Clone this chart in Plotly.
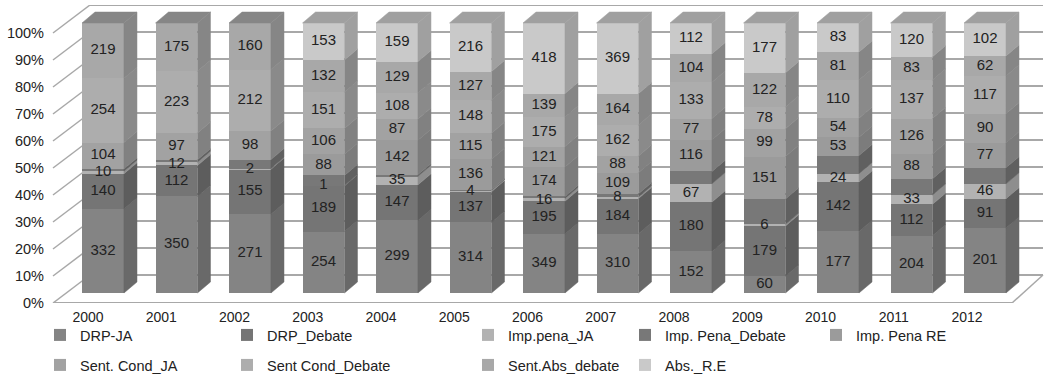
import numpy as np
import plotly.graph_objects as go

# ---- data -------------------------------------------------------------
years = [2000, 2001, 2002, 2003, 2004, 2005, 2006, 2007, 2008, 2009, 2010, 2011, 2012]

drp_ja           = [332, 350, 271, 254, 299, 314, 349, 310, 152,  60, 177, 204, 201]
drp_debate       = [140, 112, 155, 189, 147, 137, 195, 184, 180, 179, 142, 112,  91]
imp_pena_ja      = [ 10,  12,   2,   1,  35,   4,  16,   8,  67,   6,  24,  33,  46]
imp_pena_debate  = [  9,   9,  31,  42,   7,   5,  12,  17,  45,  90,  52,  58,  50]
imp_pena_re      = [  0,   0,   0,  88, 142, 136, 174, 109, 116, 151,  53,  88,  77]
sent_cond_ja     = [104,  97,  98, 106,  87, 115, 121,  88,  77,  99,  54, 126,  90]
sent_cond_debate = [254, 223, 212, 151, 108, 148, 175, 162, 133,  78, 110, 137, 117]
sent_abs_debate  = [219, 175, 160, 132, 129, 127, 139, 164, 104, 122,  81,  83,  62]
abs_re           = [  0,   0,   0, 153, 159, 216, 418, 369, 112, 177,  83, 120, 102]

series_names = ["DRP-JA", "DRP_Debate", "Imp.pena_JA", "Imp. Pena_Debate", "Imp. Pena RE",
                "Sent. Cond_JA", "Sent Cond_Debate", "Sent.Abs_debate", "Abs._R.E"]
series_values = [drp_ja, drp_debate, imp_pena_ja, imp_pena_debate, imp_pena_re,
                 sent_cond_ja, sent_cond_debate, sent_abs_debate, abs_re]
series_colors = ["#848484", "#757575", "#b2b2b2", "#787878", "#9b9b9b",
                 "#a2a2a2", "#adadad", "#a8a8a8", "#c9c9c9"]
# the Imp. Pena_Debate segments carry no value label
show_labels = [True, True, True, False, True, True, True, True, True]

tick_pcts = list(range(0, 101, 10))

# ---- geometry of the pseudo-3D columns --------------------------------
FONT = "Liberation Sans, Arial, sans-serif"
TEXT_COLOR = "#222222"
FRAME_COLOR = "#a8a8a8"
BAR_W = 0.571          # front face width (x units)
DX = 0.177             # depth offset along x (x units)
DY = 4.07              # depth offset along y (percent units)
WALL = 10.37           # distance between the front plane and the back wall (percent units)
WALL_X = 0.0374        # back wall left edge (paper units)
FLOOR_X = 0.9687       # front floor right corner (paper units)


def shade(hex_color, f):
    r, g, b = (int(hex_color[i:i + 2], 16) for i in (1, 3, 5))
    return "#%02x%02x%02x" % (int(r * f), int(g * f), int(b * f))


vals = np.array(series_values, dtype=float)
totals = vals.sum(axis=0)
pcts = vals / totals * 100.0
bases = np.vstack([np.zeros(len(years)), np.cumsum(pcts, axis=0)[:-1]])
x = np.array(years, dtype=float)

fig = go.Figure()

# side faces of every segment
for s, name in enumerate(series_names):
    px, py = [], []
    for i in range(len(years)):
        if pcts[s, i] <= 0:
            continue
        xr = x[i] + BAR_W / 2
        b0, b1 = bases[s, i], bases[s, i] + pcts[s, i]
        px += [xr, xr + DX, xr + DX, xr, xr, None]
        py += [b0, b0 + DY, b1 + DY, b1, b0, None]
    side = shade(series_colors[s], 0.8)
    fig.add_trace(go.Scatter(x=px, y=py, mode="lines", fill="toself", fillcolor=side,
                             line=dict(color=side, width=0.5), showlegend=False,
                             hoverinfo="skip"))

# top faces, tinted by the uppermost segment of each column
for i in range(len(years)):
    top_s = max(s for s in range(len(series_names)) if pcts[s, i] > 0)
    xl, xr = x[i] - BAR_W / 2, x[i] + BAR_W / 2
    top = shade(series_colors[top_s], 0.8)
    fig.add_trace(go.Scatter(x=[xl, xl + DX, xr + DX, xr, xl],
                             y=[100, 100 + DY, 100 + DY, 100, 100],
                             mode="lines", fill="toself", fillcolor=top,
                             line=dict(color=top, width=0.5), showlegend=False,
                             hoverinfo="skip"))

# front faces: 100% stacked columns
for s, name in enumerate(series_names):
    leg = "legend" if s == 0 else "legend%d" % (s + 1)
    fig.add_trace(go.Bar(x=years, y=series_values[s], name=name, width=BAR_W,
                         marker=dict(color=series_colors[s], line=dict(width=0)),
                         legend=leg, hoverinfo="skip"))

# value labels in the middle of each segment
for s, name in enumerate(series_names):
    if not show_labels[s]:
        continue
    mask = vals[s] > 0
    fig.add_trace(go.Scatter(x=x[mask], y=(bases[s] + pcts[s] / 2)[mask],
                             text=[str(int(v)) for v in vals[s][mask]],
                             mode="text", textposition="middle center",
                             textfont=dict(family=FONT, size=15, color=TEXT_COLOR),
                             showlegend=False, hoverinfo="skip"))

# anchor trace so the front-plane axes (year and percent labels) are rendered
fig.add_trace(go.Scatter(x=[years[0]], y=[0], xaxis="x2", yaxis="y2", mode="markers",
                         marker=dict(opacity=0), showlegend=False, hoverinfo="skip"))

# ---- frame: back wall, left wall and floor -----------------------------
shapes = []
for k in tick_pcts:
    shapes.append(dict(type="line", xref="paper", yref="y3", x0=WALL_X, x1=1.0, y0=k, y1=k,
                       line=dict(color=FRAME_COLOR, width=2), layer="below"))
    shapes.append(dict(type="line", xref="paper", yref="y3", x0=0.0, x1=WALL_X,
                       y0=k - WALL, y1=k, line=dict(color=FRAME_COLOR, width=1.5), layer="below"))
shapes.append(dict(type="line", xref="paper", yref="y3", x0=0.0, x1=FLOOR_X,
                   y0=-WALL, y1=-WALL, line=dict(color=FRAME_COLOR, width=2), layer="below"))
shapes.append(dict(type="line", xref="paper", yref="y3", x0=FLOOR_X, x1=1.0,
                   y0=-WALL, y1=0, line=dict(color=FRAME_COLOR, width=1.5), layer="below"))

# ---- legends: five columns, two rows ------------------------------------
legend_text_x = [85, 272, 513, 670, 861]
legend_row_y = [335, 365]
PLOT_L, PLOT_W, PLOT_B, PLOT_H = 53, 990, 303, 298
legends = {}
for s in range(len(series_names)):
    col, row = s % 5, s // 5
    key = "legend" if s == 0 else "legend%d" % (s + 1)
    legends[key] = dict(x=(legend_text_x[col] - 45 - PLOT_L) / PLOT_W,
                        y=(PLOT_B - legend_row_y[row]) / PLOT_H,
                        xanchor="left", yanchor="middle", bgcolor="rgba(0,0,0,0)",
                        font=dict(family=FONT, size=14.5, color=TEXT_COLOR))

fig.update_layout(
    width=1052, height=375, autosize=False,
    margin=dict(l=53, r=9, t=5, b=72, autoexpand=False),
    paper_bgcolor="white", plot_bgcolor="rgba(0,0,0,0)",
    barmode="stack", barnorm="percent",
    font=dict(family=FONT, size=15, color=TEXT_COLOR),
    shapes=shapes,
    xaxis=dict(range=[1999.320, 2012.789], showticklabels=False, showgrid=False,
               zeroline=False, showline=False),
    xaxis2=dict(overlaying="x", side="bottom", range=[1999.522, 2013.037],
                tickmode="array", tickvals=years, ticktext=[str(y) for y in years],
                showgrid=False, zeroline=False, showline=False, ticks="",
                ticklabelstandoff=4, tickfont=dict(family=FONT, size=14, color=TEXT_COLOR)),
    yaxis=dict(range=[-3.704, 106.67], showticklabels=False, showgrid=False,
               zeroline=False, showline=False),
    yaxis2=dict(overlaying="y", side="left", range=[-0.01, 110.37],
                tickmode="array", tickvals=tick_pcts, ticktext=["%d%%" % k for k in tick_pcts],
                showgrid=False, zeroline=False, showline=False, ticks="",
                ticklabelstandoff=8, tickfont=dict(family=FONT, size=14.5, color=TEXT_COLOR)),
    yaxis3=dict(overlaying="y", range=[-WALL, 100.0], visible=False),
    **legends,
)

fig.write_html("out.html")
